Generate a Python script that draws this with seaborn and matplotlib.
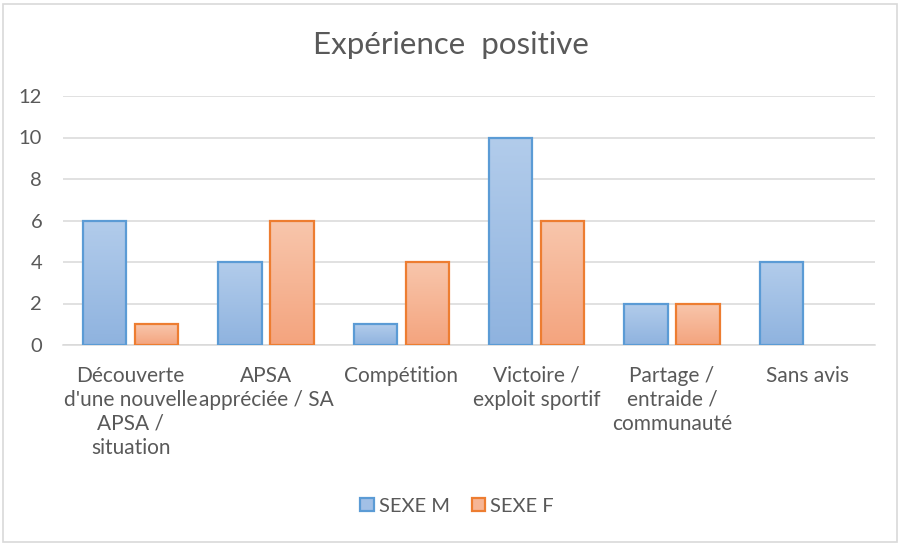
import numpy as np
import pandas as pd
import matplotlib
matplotlib.use("Agg")
import matplotlib.pyplot as plt
import seaborn as sns
from matplotlib.patches import Patch, Rectangle
from matplotlib.colors import LinearSegmentedColormap

categories = ["Découverte\nd'une nouvelle\nAPSA /\nsituation",
              "APSA\nappréciée / SA",
              "Compétition",
              "Victoire /\nexploit sportif",
              "Partage /\nentraide /\ncommunauté",
              "Sans avis"]
sexe_m = [6, 4, 1, 10, 2, 4]
sexe_f = [1, 6, 4, 6, 2, 0]
series = ["SEXE M", "SEXE F"]
yticks = [0, 2, 4, 6, 8, 10, 12]

df = pd.DataFrame({
    "cat": categories * 2,
    "val": sexe_m + sexe_f,
    "sexe": [series[0]] * len(categories) + [series[1]] * len(categories),
})

sns.set_style("white")
plt.rcParams['font.family'] = ['Lato', 'DejaVu Sans']

fig = plt.figure(figsize=(9.01, 5.45), dpi=100)
ax = fig.add_axes([63/901, 1-345/545, (875-63)/901, (345-96)/545])

edge_cols = {"SEXE M": "#5b9bd5", "SEXE F": "#ed7d31"}
grad = {"SEXE M": ("#b2cceb", "#8fb3df"), "SEXE F": ("#f8c6ac", "#f4a47e")}
mid = {"SEXE M": "#a2c0e6", "SEXE F": "#f6b595"}

sns.barplot(data=df, x="cat", y="val", hue="sexe", hue_order=series,
            order=categories, palette=mid, width=0.77, gap=0.17,
            edgecolor="none", linewidth=0, ax=ax, legend=False, zorder=3)

ax.set_ylim(0, 12)
ax.set_xlim(-0.5, len(categories) - 0.5)
for cont, s in zip(ax.containers, series):
    cmap = LinearSegmentedColormap.from_list(s, [grad[s][1], grad[s][0]])
    for p in cont.patches:
        h = p.get_height()
        if h <= 0:
            p.set_visible(False)
            continue
        x0, w = p.get_x(), p.get_width()
        img = ax.imshow(np.linspace(0, 1, 100).reshape(-1, 1), cmap=cmap,
                        origin="lower", extent=[x0, x0 + w, 0, h],
                        aspect="auto", zorder=3)
        img.set_clip_path(p)
        p.set_facecolor("none")
        p.set_edgecolor(edge_cols[s])
        p.set_linewidth(1.6)
        p.set_zorder(4)
ax.set_ylim(0, 12)
ax.set_xlim(-0.5, len(categories) - 0.5)

ax.set_yticks(yticks)
ax.yaxis.grid(True, color="#d9d9d9", linewidth=1.1, zorder=0)
ax.set_axisbelow(True)
for sp in ["top", "right", "left"]:
    ax.spines[sp].set_visible(False)
ax.spines["bottom"].set_color("#d9d9d9")
ax.spines["bottom"].set_linewidth(1.1)
ax.tick_params(axis="y", length=0, pad=15, labelsize=14.5, labelcolor="#595959")
ax.tick_params(axis="x", length=0, pad=15, labelsize=15, labelcolor="#595959")
for t in ax.get_xticklabels():
    t.set_linespacing(1.25)
    t.set_verticalalignment("top")
ax.set_xlabel("")
ax.set_ylabel("")

fig.text(0.5, 1 - 45/545, "Expérience  positive", ha="center", va="center",
         fontsize=22.5, color="#595959")

handles = [Patch(facecolor=mid[s], edgecolor=edge_cols[s], linewidth=1.6, label=s)
           for s in series]
fig.legend(handles=handles, loc="center", bbox_to_anchor=(457/901, 1 - 506/545),
           ncol=2, frameon=False, fontsize=14.5, labelcolor="#595959",
           handlelength=0.65, handleheight=0.65, handletextpad=0.25,
           columnspacing=1.1)

fig.patches.append(Rectangle((3/901, 3/545), 894/901, 538/545, transform=fig.transFigure,
                             fill=False, edgecolor="#d9d9d9", linewidth=1.2))

fig.savefig("out.png", dpi=100)
